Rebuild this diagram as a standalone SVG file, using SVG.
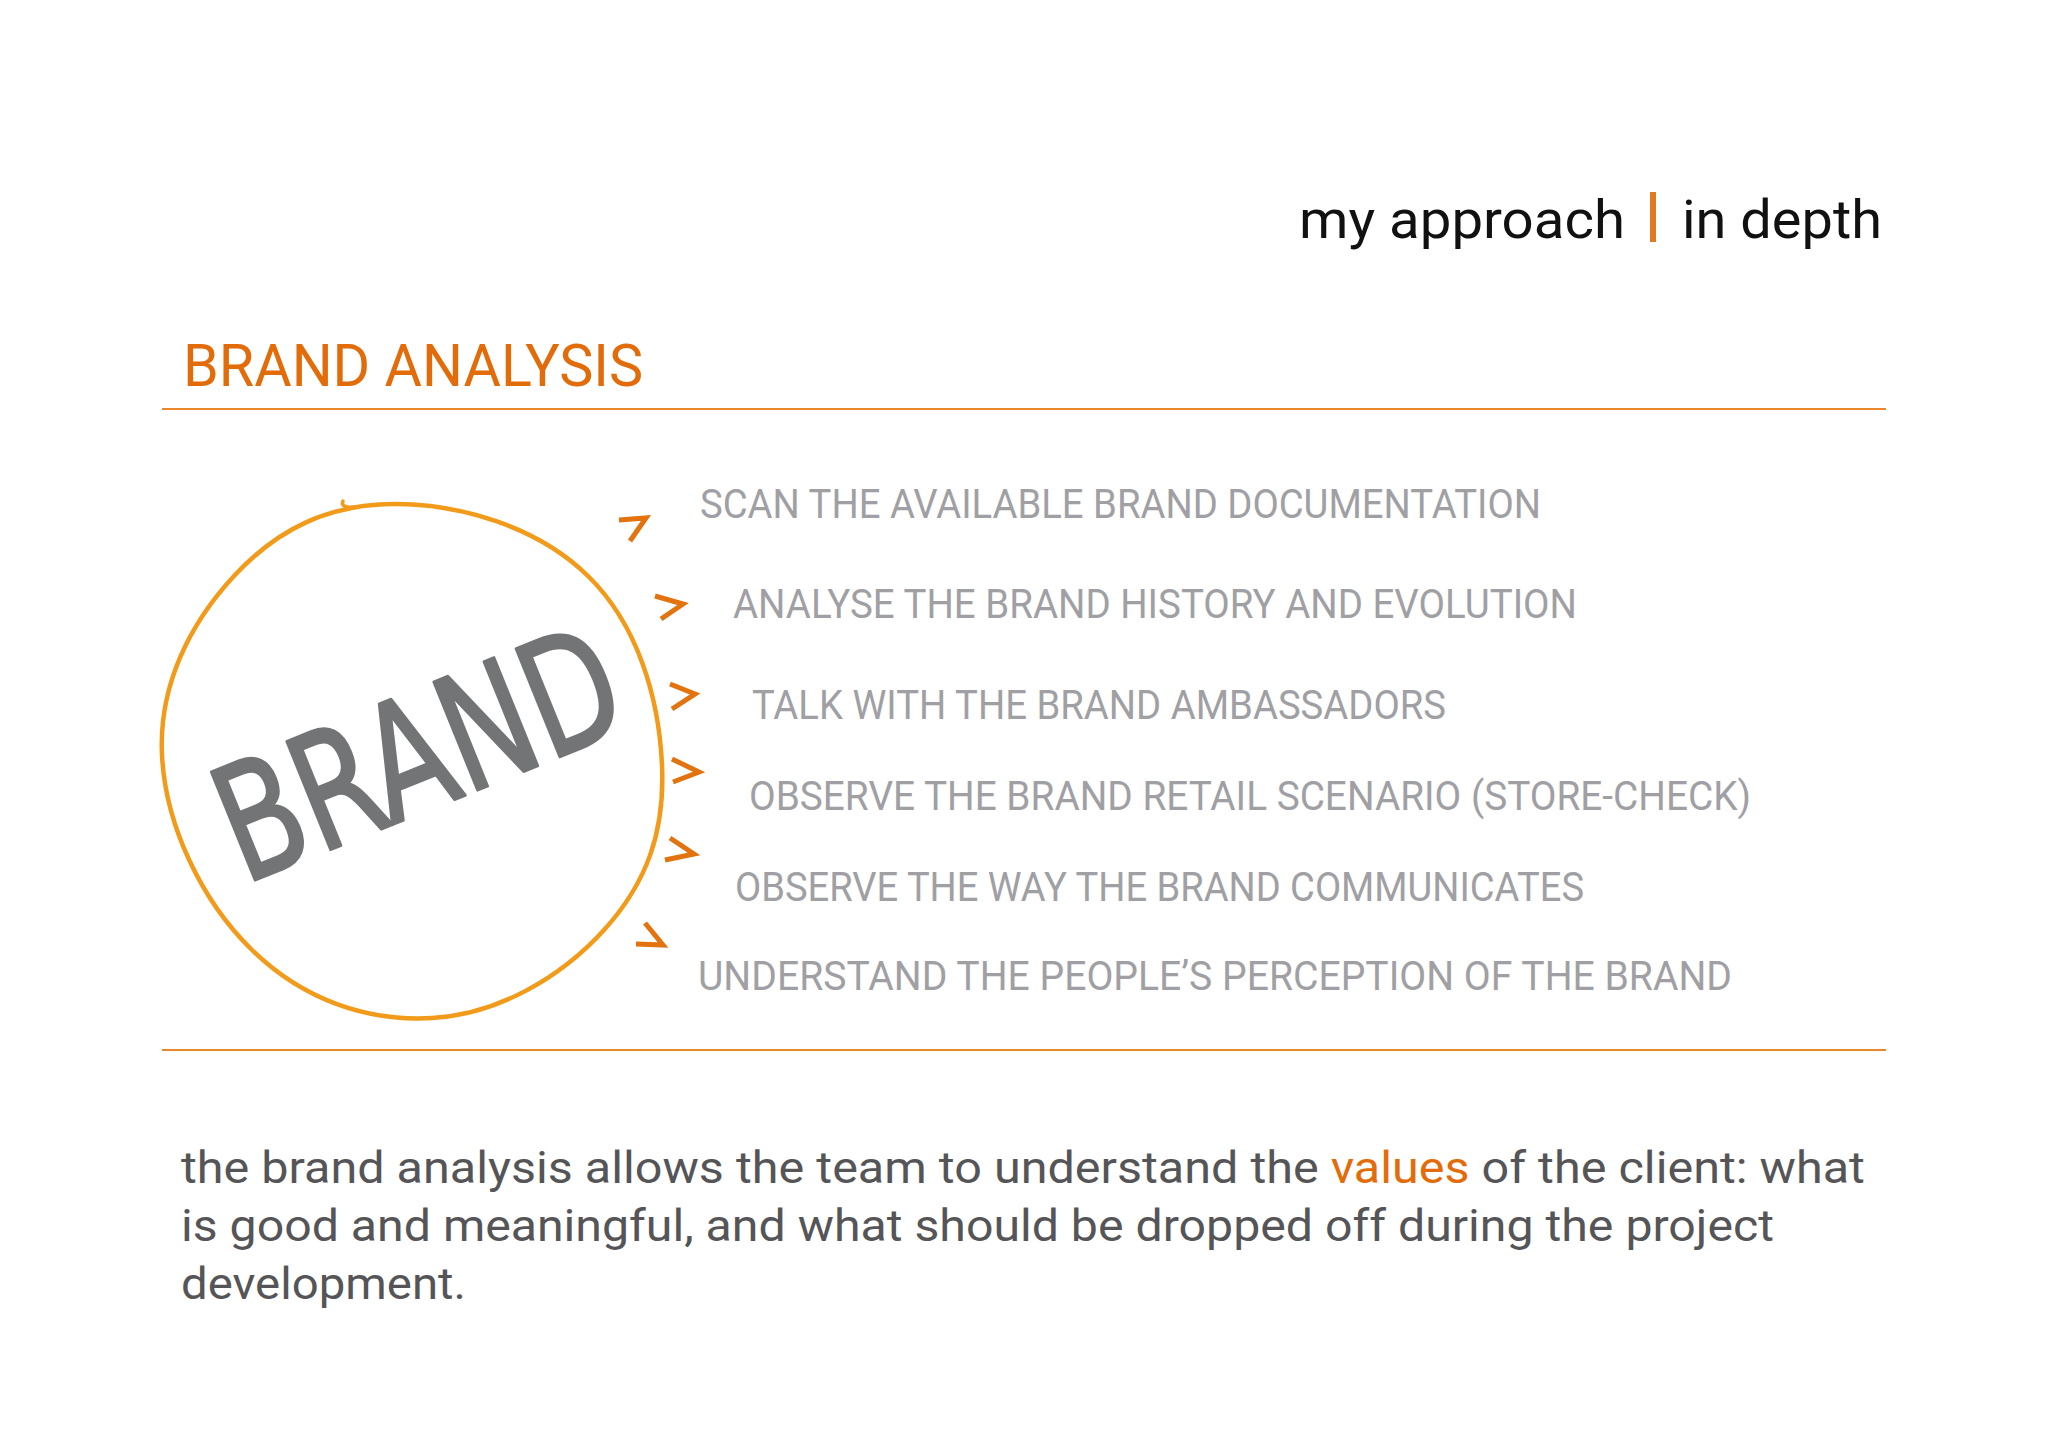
<svg xmlns="http://www.w3.org/2000/svg" width="2048" height="1447" viewBox="0 0 2048 1447">
<style>
.item{font-family:Roboto,"Liberation Sans",sans-serif;font-size:40px;fill:#a0a0a4}
.rule{stroke:#e8872c;stroke-width:2}
.chev{fill:none;stroke:#e3730f;stroke-width:5;stroke-linejoin:miter;stroke-linecap:butt}
.para{font-family:Roboto,"Liberation Sans",sans-serif;font-size:45px;fill:#555558}
</style>
<rect width="2048" height="1447" fill="#ffffff"/>
<g id="header">
<text x="1299" y="238" font-family="Roboto,'Liberation Sans',sans-serif" font-size="54" fill="#111111" textLength="326" lengthAdjust="spacingAndGlyphs">my approach</text>
<rect x="1650" y="192" width="6" height="50" fill="#e07b1f"/>
<text x="1682" y="238" font-family="Roboto,'Liberation Sans',sans-serif" font-size="54" fill="#111111" textLength="200" lengthAdjust="spacingAndGlyphs">in depth</text>
</g>
<g id="title">
<text x="183" y="386" font-family="Roboto,'Liberation Sans',sans-serif" font-size="59" fill="#e36c0a" textLength="460" lengthAdjust="spacingAndGlyphs">BRAND ANALYSIS</text>
</g>
<line class="rule" x1="162" y1="409" x2="1886" y2="409"/>
<line class="rule" x1="162" y1="1050" x2="1886" y2="1050"/>
<g id="brand">
<path d="M 395 504 C 461.4 504 537.9 527.1 588 576 C 638.1 624.9 659 698.6 662 765 C 665 831.4 647.1 882.6 604 930 C 560.9 977.4 498 1014.3 432 1018 C 366 1021.8 302.6 999.3 252 950 C 201.4 900.7 165.4 825.1 162 755 C 158.6 684.9 190.3 623.1 234 576 C 277.7 528.9 328.6 504 395 504 Z" fill="#ffffff" stroke="#f29b1a" stroke-width="4.5"/>
<path d="M 354 507 Q 340 508 343 501" fill="none" stroke="#f29b1a" stroke-width="3.5" stroke-linecap="round"/>
<text x="0" y="58" transform="translate(417,752) rotate(-22)" text-anchor="middle" font-family="'DejaVu Sans',sans-serif" font-size="160" fill="#737476" stroke="#737476" stroke-width="3" stroke-linejoin="round" textLength="420" lengthAdjust="spacingAndGlyphs">BRAND</text>
</g>
<g id="connectors">
<polyline class="chev" points="619,520 646,518 630,541"/>
<polyline class="chev" points="655,596 683,604 661,619"/>
<polyline class="chev" points="670,684 695,694 672,709"/>
<polyline class="chev" points="672,759 699,772 673,782"/>
<polyline class="chev" points="670,838 694,854 665,860"/>
<polyline class="chev" points="645,923 663,945 636,944"/>
</g>
<g id="item1"><text class="item" x="700" y="518" textLength="841" lengthAdjust="spacingAndGlyphs">SCAN THE AVAILABLE BRAND DOCUMENTATION</text></g>
<g id="item2"><text class="item" x="733" y="618" textLength="844" lengthAdjust="spacingAndGlyphs">ANALYSE THE BRAND HISTORY AND EVOLUTION</text></g>
<g id="item3"><text class="item" x="752" y="719" textLength="694" lengthAdjust="spacingAndGlyphs">TALK WITH THE BRAND AMBASSADORS</text></g>
<g id="item4"><text class="item" x="749" y="810" textLength="1002" lengthAdjust="spacingAndGlyphs">OBSERVE THE BRAND RETAIL SCENARIO (STORE-CHECK)</text></g>
<g id="item5"><text class="item" x="735" y="901" textLength="849" lengthAdjust="spacingAndGlyphs">OBSERVE THE WAY THE BRAND COMMUNICATES</text></g>
<g id="item6"><text class="item" x="698" y="990" textLength="1034" lengthAdjust="spacingAndGlyphs">UNDERSTAND THE PEOPLE’S PERCEPTION OF THE BRAND</text></g>
<g id="description">
<text class="para" x="181" y="1183" textLength="1684" lengthAdjust="spacingAndGlyphs">the brand analysis allows the team to understand the <tspan fill="#e36c0a">values</tspan> of the client: what</text>
<text class="para" x="181" y="1241" textLength="1593" lengthAdjust="spacingAndGlyphs">is good and meaningful, and what should be dropped off during the project</text>
<text class="para" x="181" y="1299" textLength="285" lengthAdjust="spacingAndGlyphs">development.</text>
</g>
</svg>
